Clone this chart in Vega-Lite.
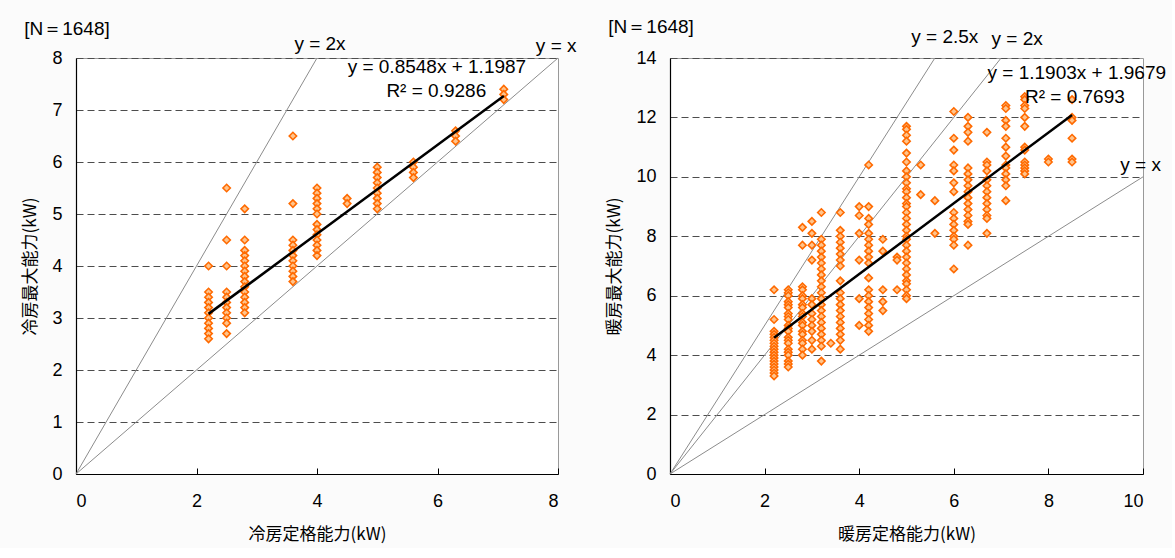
{
  "$schema": "https://vega.github.io/schema/vega-lite/v6.json",
  "background": "#fbfbfb",
  "padding": {"left": 21, "top": 17, "right": 5, "bottom": 5},
  "spacing": 112,
  "bounds": "flush",
  "config": {
    "view": {"fill": "white", "stroke": "#999999", "strokeWidth": 1},
    "font": "Liberation Sans",
    "axis": {
      "labelFont": "Liberation Sans",
      "labelFontSize": 18,
      "labelColor": "black",
      "titleFont": "Noto Sans CJK JP",
      "titleFontSize": 17,
      "titleFontWeight": "normal",
      "titleColor": "black",
      "domainColor": "black",
      "domainWidth": 1.2,
      "tickColor": "black",
      "grid": false
    },
    "axisX": {"labelPadding": 24, "titlePadding": 16, "tickSize": -6, "labelAngle": 0, "format": "d"},
    "axisY": {"labelPadding": 14, "titlePadding": 12, "tickSize": 0, "grid": true, "gridColor": "#4d4d4d", "gridDash": [7, 4], "gridWidth": 1, "format": "d"}
  },
  "datasets": {
    "cool": [
      {"x": 2.2, "y": 4.0}, {"x": 2.2, "y": 3.5}, {"x": 2.2, "y": 3.4}, {"x": 2.2, "y": 3.3}, {"x": 2.2, "y": 3.2}, {"x": 2.2, "y": 3.1}, {"x": 2.2, "y": 3.0}, {"x": 2.2, "y": 2.9}, {"x": 2.2, "y": 2.8}, {"x": 2.2, "y": 2.7}, {"x": 2.2, "y": 2.6},
      {"x": 2.5, "y": 5.5}, {"x": 2.5, "y": 4.5}, {"x": 2.5, "y": 4.0}, {"x": 2.5, "y": 3.5}, {"x": 2.5, "y": 3.4}, {"x": 2.5, "y": 3.3}, {"x": 2.5, "y": 3.2}, {"x": 2.5, "y": 3.1}, {"x": 2.5, "y": 3.0}, {"x": 2.5, "y": 2.9}, {"x": 2.5, "y": 2.7},
      {"x": 2.8, "y": 5.1}, {"x": 2.8, "y": 4.5}, {"x": 2.8, "y": 4.3}, {"x": 2.8, "y": 4.2}, {"x": 2.8, "y": 4.1}, {"x": 2.8, "y": 4.0}, {"x": 2.8, "y": 3.9}, {"x": 2.8, "y": 3.8}, {"x": 2.8, "y": 3.7}, {"x": 2.8, "y": 3.6}, {"x": 2.8, "y": 3.5}, {"x": 2.8, "y": 3.4}, {"x": 2.8, "y": 3.3}, {"x": 2.8, "y": 3.2}, {"x": 2.8, "y": 3.1},
      {"x": 3.6, "y": 6.5}, {"x": 3.6, "y": 5.2}, {"x": 3.6, "y": 4.5}, {"x": 3.6, "y": 4.4}, {"x": 3.6, "y": 4.3}, {"x": 3.6, "y": 4.2}, {"x": 3.6, "y": 4.1}, {"x": 3.6, "y": 4.0}, {"x": 3.6, "y": 3.9}, {"x": 3.6, "y": 3.8}, {"x": 3.6, "y": 3.7},
      {"x": 4.0, "y": 5.5}, {"x": 4.0, "y": 5.4}, {"x": 4.0, "y": 5.3}, {"x": 4.0, "y": 5.2}, {"x": 4.0, "y": 5.1}, {"x": 4.0, "y": 5.0}, {"x": 4.0, "y": 4.8}, {"x": 4.0, "y": 4.7}, {"x": 4.0, "y": 4.6}, {"x": 4.0, "y": 4.5}, {"x": 4.0, "y": 4.4}, {"x": 4.0, "y": 4.3}, {"x": 4.0, "y": 4.2},
      {"x": 4.5, "y": 5.3}, {"x": 4.5, "y": 5.2},
      {"x": 5.0, "y": 5.9}, {"x": 5.0, "y": 5.8}, {"x": 5.0, "y": 5.7}, {"x": 5.0, "y": 5.6}, {"x": 5.0, "y": 5.5}, {"x": 5.0, "y": 5.4}, {"x": 5.0, "y": 5.3}, {"x": 5.0, "y": 5.2}, {"x": 5.0, "y": 5.1},
      {"x": 5.6, "y": 6.0}, {"x": 5.6, "y": 5.9}, {"x": 5.6, "y": 5.8}, {"x": 5.6, "y": 5.7},
      {"x": 6.3, "y": 6.6}, {"x": 6.3, "y": 6.5}, {"x": 6.3, "y": 6.4},
      {"x": 7.1, "y": 7.4}, {"x": 7.1, "y": 7.3}, {"x": 7.1, "y": 7.2}
    ],
    "heat": [
      {"x": 2.2, "y": 6.2}, {"x": 2.2, "y": 5.2}, {"x": 2.2, "y": 4.8}, {"x": 2.2, "y": 4.7}, {"x": 2.2, "y": 4.6}, {"x": 2.2, "y": 4.5}, {"x": 2.2, "y": 4.4}, {"x": 2.2, "y": 4.3}, {"x": 2.2, "y": 4.2}, {"x": 2.2, "y": 4.1}, {"x": 2.2, "y": 4.0}, {"x": 2.2, "y": 3.9}, {"x": 2.2, "y": 3.8}, {"x": 2.2, "y": 3.7}, {"x": 2.2, "y": 3.6}, {"x": 2.2, "y": 3.5}, {"x": 2.2, "y": 3.4}, {"x": 2.2, "y": 3.3},
      {"x": 2.5, "y": 6.2}, {"x": 2.5, "y": 6.1}, {"x": 2.5, "y": 6.0}, {"x": 2.5, "y": 5.8}, {"x": 2.5, "y": 5.7}, {"x": 2.5, "y": 5.6}, {"x": 2.5, "y": 5.4}, {"x": 2.5, "y": 5.3}, {"x": 2.5, "y": 5.2}, {"x": 2.5, "y": 5.0}, {"x": 2.5, "y": 4.9}, {"x": 2.5, "y": 4.8}, {"x": 2.5, "y": 4.6}, {"x": 2.5, "y": 4.5}, {"x": 2.5, "y": 4.4}, {"x": 2.5, "y": 4.2}, {"x": 2.5, "y": 4.1}, {"x": 2.5, "y": 4.0}, {"x": 2.5, "y": 3.8}, {"x": 2.5, "y": 3.7}, {"x": 2.5, "y": 3.6},
      {"x": 2.8, "y": 8.3}, {"x": 2.8, "y": 7.7}, {"x": 2.8, "y": 6.3}, {"x": 2.8, "y": 6.2}, {"x": 2.8, "y": 6.0}, {"x": 2.8, "y": 5.9}, {"x": 2.8, "y": 5.7}, {"x": 2.8, "y": 5.6}, {"x": 2.8, "y": 5.4}, {"x": 2.8, "y": 5.3}, {"x": 2.8, "y": 5.1}, {"x": 2.8, "y": 5.0}, {"x": 2.8, "y": 4.8}, {"x": 2.8, "y": 4.7}, {"x": 2.8, "y": 4.5}, {"x": 2.8, "y": 4.4}, {"x": 2.8, "y": 4.2}, {"x": 2.8, "y": 4.0},
      {"x": 3.0, "y": 8.5}, {"x": 3.0, "y": 8.1}, {"x": 3.0, "y": 7.7}, {"x": 3.0, "y": 7.2}, {"x": 3.0, "y": 5.9}, {"x": 3.0, "y": 5.7}, {"x": 3.0, "y": 5.4}, {"x": 3.0, "y": 5.2}, {"x": 3.0, "y": 5.0}, {"x": 3.0, "y": 4.8}, {"x": 3.0, "y": 4.5}, {"x": 3.0, "y": 4.2},
      {"x": 3.2, "y": 8.8}, {"x": 3.2, "y": 7.9}, {"x": 3.2, "y": 7.7}, {"x": 3.2, "y": 7.5}, {"x": 3.2, "y": 7.3}, {"x": 3.2, "y": 7.1}, {"x": 3.2, "y": 6.9}, {"x": 3.2, "y": 6.7}, {"x": 3.2, "y": 6.5}, {"x": 3.2, "y": 6.3}, {"x": 3.2, "y": 6.1}, {"x": 3.2, "y": 5.9}, {"x": 3.2, "y": 5.7}, {"x": 3.2, "y": 5.5}, {"x": 3.2, "y": 5.3}, {"x": 3.2, "y": 5.1}, {"x": 3.2, "y": 4.9}, {"x": 3.2, "y": 4.7}, {"x": 3.2, "y": 4.5}, {"x": 3.2, "y": 4.3}, {"x": 3.2, "y": 3.8},
      {"x": 3.4, "y": 4.4},
      {"x": 3.6, "y": 8.8}, {"x": 3.6, "y": 8.2}, {"x": 3.6, "y": 8.0}, {"x": 3.6, "y": 7.8}, {"x": 3.6, "y": 7.6}, {"x": 3.6, "y": 7.4}, {"x": 3.6, "y": 7.2}, {"x": 3.6, "y": 7.0}, {"x": 3.6, "y": 6.5}, {"x": 3.6, "y": 6.1}, {"x": 3.6, "y": 5.9}, {"x": 3.6, "y": 5.7}, {"x": 3.6, "y": 5.5}, {"x": 3.6, "y": 5.3}, {"x": 3.6, "y": 5.1}, {"x": 3.6, "y": 4.9}, {"x": 3.6, "y": 4.7}, {"x": 3.6, "y": 4.5}, {"x": 3.6, "y": 4.2},
      {"x": 4.0, "y": 9.0}, {"x": 4.0, "y": 8.7}, {"x": 4.0, "y": 8.1}, {"x": 4.0, "y": 7.2}, {"x": 4.0, "y": 5.9}, {"x": 4.0, "y": 5.0},
      {"x": 4.2, "y": 10.4}, {"x": 4.2, "y": 9.0}, {"x": 4.2, "y": 8.6}, {"x": 4.2, "y": 8.4}, {"x": 4.2, "y": 8.1}, {"x": 4.2, "y": 7.9}, {"x": 4.2, "y": 7.7}, {"x": 4.2, "y": 7.5}, {"x": 4.2, "y": 7.3}, {"x": 4.2, "y": 7.1}, {"x": 4.2, "y": 6.6}, {"x": 4.2, "y": 6.2}, {"x": 4.2, "y": 6.0}, {"x": 4.2, "y": 5.8}, {"x": 4.2, "y": 5.6}, {"x": 4.2, "y": 5.4}, {"x": 4.2, "y": 5.2}, {"x": 4.2, "y": 5.0}, {"x": 4.2, "y": 4.8},
      {"x": 4.5, "y": 7.9}, {"x": 4.5, "y": 7.5}, {"x": 4.5, "y": 6.2}, {"x": 4.5, "y": 5.8}, {"x": 4.5, "y": 5.5},
      {"x": 4.8, "y": 7.3}, {"x": 4.8, "y": 7.2}, {"x": 4.8, "y": 6.2},
      {"x": 5.0, "y": 11.7}, {"x": 5.0, "y": 11.6}, {"x": 5.0, "y": 11.4}, {"x": 5.0, "y": 11.2}, {"x": 5.0, "y": 10.8}, {"x": 5.0, "y": 10.5}, {"x": 5.0, "y": 10.2}, {"x": 5.0, "y": 10.0}, {"x": 5.0, "y": 9.8}, {"x": 5.0, "y": 9.6}, {"x": 5.0, "y": 9.5}, {"x": 5.0, "y": 9.3}, {"x": 5.0, "y": 9.1}, {"x": 5.0, "y": 9.0}, {"x": 5.0, "y": 8.8}, {"x": 5.0, "y": 8.6}, {"x": 5.0, "y": 8.4}, {"x": 5.0, "y": 8.2}, {"x": 5.0, "y": 8.0}, {"x": 5.0, "y": 7.9}, {"x": 5.0, "y": 7.7}, {"x": 5.0, "y": 7.5}, {"x": 5.0, "y": 7.3}, {"x": 5.0, "y": 7.1}, {"x": 5.0, "y": 6.9}, {"x": 5.0, "y": 6.7}, {"x": 5.0, "y": 6.5}, {"x": 5.0, "y": 6.4}, {"x": 5.0, "y": 6.2}, {"x": 5.0, "y": 6.0}, {"x": 5.0, "y": 5.9},
      {"x": 5.3, "y": 10.4}, {"x": 5.3, "y": 9.4},
      {"x": 5.6, "y": 9.2}, {"x": 5.6, "y": 8.1},
      {"x": 6.0, "y": 12.2}, {"x": 6.0, "y": 11.3}, {"x": 6.0, "y": 10.9}, {"x": 6.0, "y": 10.4}, {"x": 6.0, "y": 10.2}, {"x": 6.0, "y": 9.8}, {"x": 6.0, "y": 9.5}, {"x": 6.0, "y": 8.8}, {"x": 6.0, "y": 8.6}, {"x": 6.0, "y": 8.4}, {"x": 6.0, "y": 8.2}, {"x": 6.0, "y": 8.0}, {"x": 6.0, "y": 7.9}, {"x": 6.0, "y": 7.7}, {"x": 6.0, "y": 6.9},
      {"x": 6.3, "y": 12.0}, {"x": 6.3, "y": 11.7}, {"x": 6.3, "y": 11.5}, {"x": 6.3, "y": 11.2}, {"x": 6.3, "y": 10.3}, {"x": 6.3, "y": 10.1}, {"x": 6.3, "y": 9.9}, {"x": 6.3, "y": 9.7}, {"x": 6.3, "y": 9.5}, {"x": 6.3, "y": 9.3}, {"x": 6.3, "y": 9.1}, {"x": 6.3, "y": 8.9}, {"x": 6.3, "y": 8.7}, {"x": 6.3, "y": 8.5}, {"x": 6.3, "y": 8.4}, {"x": 6.3, "y": 7.7},
      {"x": 6.7, "y": 11.5}, {"x": 6.7, "y": 10.5}, {"x": 6.7, "y": 10.4}, {"x": 6.7, "y": 10.2}, {"x": 6.7, "y": 9.9}, {"x": 6.7, "y": 9.7}, {"x": 6.7, "y": 9.5}, {"x": 6.7, "y": 9.3}, {"x": 6.7, "y": 9.1}, {"x": 6.7, "y": 8.9}, {"x": 6.7, "y": 8.7}, {"x": 6.7, "y": 8.6}, {"x": 6.7, "y": 8.1},
      {"x": 7.1, "y": 12.4}, {"x": 7.1, "y": 12.3}, {"x": 7.1, "y": 11.9}, {"x": 7.1, "y": 11.7}, {"x": 7.1, "y": 11.3}, {"x": 7.1, "y": 11.0}, {"x": 7.1, "y": 10.7}, {"x": 7.1, "y": 10.4}, {"x": 7.1, "y": 10.3}, {"x": 7.1, "y": 10.1}, {"x": 7.1, "y": 9.9}, {"x": 7.1, "y": 9.7}, {"x": 7.1, "y": 9.2},
      {"x": 7.5, "y": 12.7}, {"x": 7.5, "y": 12.6}, {"x": 7.5, "y": 12.4}, {"x": 7.5, "y": 12.3}, {"x": 7.5, "y": 12.0}, {"x": 7.5, "y": 11.7}, {"x": 7.5, "y": 11.0}, {"x": 7.5, "y": 10.9}, {"x": 7.5, "y": 10.5}, {"x": 7.5, "y": 10.4}, {"x": 7.5, "y": 10.3}, {"x": 7.5, "y": 10.2}, {"x": 7.5, "y": 10.1},
      {"x": 8.0, "y": 10.6}, {"x": 8.0, "y": 10.5},
      {"x": 8.5, "y": 12.6}, {"x": 8.5, "y": 12.0}, {"x": 8.5, "y": 11.9}, {"x": 8.5, "y": 11.3}, {"x": 8.5, "y": 10.6}, {"x": 8.5, "y": 10.5}
    ],
    "coolRef": [
      {"line": "y=x", "x": 0, "y": 0}, {"line": "y=x", "x": 8, "y": 8},
      {"line": "y=2x", "x": 0, "y": 0}, {"line": "y=2x", "x": 4, "y": 8}
    ],
    "heatRef": [
      {"line": "y=x", "x": 0, "y": 0}, {"line": "y=x", "x": 10, "y": 10},
      {"line": "y=2x", "x": 0, "y": 0}, {"line": "y=2x", "x": 7, "y": 14},
      {"line": "y=2.5x", "x": 0, "y": 0}, {"line": "y=2.5x", "x": 5.6, "y": 14}
    ],
    "coolFit": [{"x": 2.2, "y": 3.0793}, {"x": 7.1, "y": 7.2678}],
    "heatFit": [{"x": 2.2, "y": 4.5866}, {"x": 8.5, "y": 12.0855}],
    "coolText": [
      {"t": "[N＝1648]", "x": -0.15, "y": 8.55},
      {"t": "y = 2x", "x": 4.05, "y": 8.27},
      {"t": "y = x", "x": 7.97, "y": 8.23},
      {"t": "y = 0.8548x + 1.1987", "x": 5.99, "y": 7.82},
      {"t": "R² = 0.9286", "x": 5.98, "y": 7.36}
    ],
    "heatText": [
      {"t": "[N＝1648]", "x": -0.4, "y": 15.05},
      {"t": "y = 2.5x", "x": 5.81, "y": 14.72},
      {"t": "y = 2x", "x": 7.34, "y": 14.65},
      {"t": "y = 1.1903x + 1.9679", "x": 8.6, "y": 13.5},
      {"t": "R² = 0.7693", "x": 8.56, "y": 12.7},
      {"t": "y = x", "x": 9.95, "y": 10.39}
    ]
  },
  "hconcat": [
    {
      "width": 482,
      "height": 416,
      "layer": [
        {
          "data": {"name": "coolRef"},
          "mark": {"type": "line", "color": "#8c8c8c", "strokeWidth": 1},
          "encoding": {
            "x": {"field": "x", "type": "quantitative", "scale": {"domain": [0, 8], "nice": false}, "axis": {"values": [0, 2, 4, 6, 8], "title": "冷房定格能力(kW)"}},
            "y": {"field": "y", "type": "quantitative", "scale": {"domain": [0, 8], "nice": false}, "axis": {"values": [0, 1, 2, 3, 4, 5, 6, 7, 8], "title": "冷房最大能力(kW)"}},
            "detail": {"field": "line"}
          }
        },
        {
          "data": {"name": "cool"},
          "mark": {"type": "point", "shape": "diamond", "filled": true, "fill": "#FFC48C", "stroke": "#FF6A00", "strokeWidth": 1.6, "size": 55, "opacity": 1},
          "encoding": {
            "x": {"field": "x", "type": "quantitative"},
            "y": {"field": "y", "type": "quantitative"}
          }
        },
        {
          "data": {"name": "coolFit"},
          "mark": {"type": "line", "color": "black", "strokeWidth": 2.5},
          "encoding": {
            "x": {"field": "x", "type": "quantitative"},
            "y": {"field": "y", "type": "quantitative"}
          }
        },
        {
          "data": {"name": "coolText"},
          "mark": {"type": "text", "font": "Liberation Sans", "fontSize": 19, "color": "black", "align": "center", "baseline": "middle"},
          "encoding": {
            "x": {"field": "x", "type": "quantitative"},
            "y": {"field": "y", "type": "quantitative"},
            "text": {"field": "t"}
          }
        }
      ]
    },
    {
      "width": 473,
      "height": 416,
      "layer": [
        {
          "data": {"name": "heatRef"},
          "mark": {"type": "line", "color": "#8c8c8c", "strokeWidth": 1},
          "encoding": {
            "x": {"field": "x", "type": "quantitative", "scale": {"domain": [0, 10], "nice": false}, "axis": {"values": [0, 2, 4, 6, 8, 10], "title": "暖房定格能力(kW)"}},
            "y": {"field": "y", "type": "quantitative", "scale": {"domain": [0, 14], "nice": false}, "axis": {"values": [0, 2, 4, 6, 8, 10, 12, 14], "title": "暖房最大能力(kW)"}},
            "detail": {"field": "line"}
          }
        },
        {
          "data": {"name": "heat"},
          "mark": {"type": "point", "shape": "diamond", "filled": true, "fill": "#FFC48C", "stroke": "#FF6A00", "strokeWidth": 1.6, "size": 55, "opacity": 1},
          "encoding": {
            "x": {"field": "x", "type": "quantitative"},
            "y": {"field": "y", "type": "quantitative"}
          }
        },
        {
          "data": {"name": "heatFit"},
          "mark": {"type": "line", "color": "black", "strokeWidth": 2.5},
          "encoding": {
            "x": {"field": "x", "type": "quantitative"},
            "y": {"field": "y", "type": "quantitative"}
          }
        },
        {
          "data": {"name": "heatText"},
          "mark": {"type": "text", "font": "Liberation Sans", "fontSize": 19, "color": "black", "align": "center", "baseline": "middle"},
          "encoding": {
            "x": {"field": "x", "type": "quantitative"},
            "y": {"field": "y", "type": "quantitative"},
            "text": {"field": "t"}
          }
        }
      ]
    }
  ]
}
